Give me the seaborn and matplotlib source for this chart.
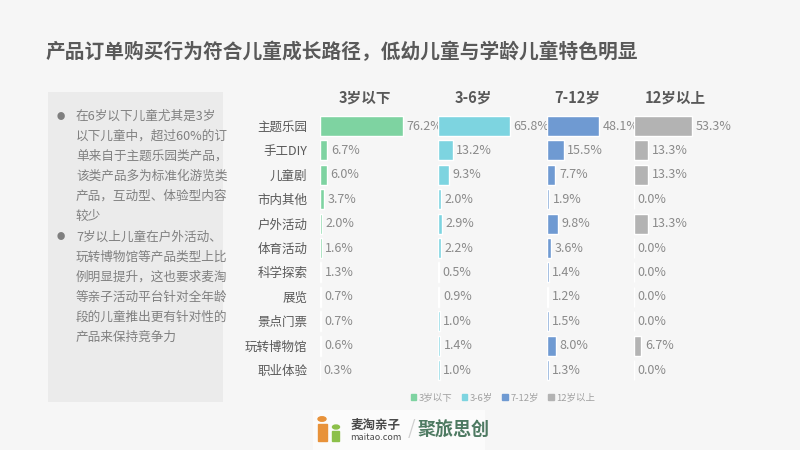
import matplotlib
matplotlib.use("Agg")
import matplotlib.pyplot as plt
import matplotlib.patches as mpatches
import seaborn as sns

# ── data ─────────────────────────────────────────────────────────────────────
categories = ["主题乐园", "手工DIY", "儿童剧", "市内其他", "户外活动", "体育活动",
              "科学探索", "展览", "景点门票", "玩转博物馆", "职业体验"]
age_groups = ["3岁以下", "3-6岁", "7-12岁", "12岁以上"]
under3 = [76.2, 6.7, 6.0, 3.7, 2.0, 1.6, 1.3, 0.7, 0.7, 0.6, 0.3]
age3_6 = [65.8, 13.2, 9.3, 2.0, 2.9, 2.2, 0.5, 0.9, 1.0, 1.4, 1.0]
age7_12 = [48.1, 15.5, 7.7, 1.9, 9.8, 3.6, 1.4, 1.2, 1.5, 8.0, 1.3]
over12 = [53.3, 13.3, 13.3, 0.0, 13.3, 0.0, 0.0, 0.0, 0.0, 6.7, 0.0]
series = [under3, age3_6, age7_12, over12]

title = "产品订单购买行为符合儿童成长路径，低幼儿童与学龄儿童特色明显"
bullets = [
    ["在6岁以下儿童尤其是3岁", "以下儿童中，超过60%的订", "单来自于主题乐园类产品，",
     "该类产品多为标准化游览类", "产品，互动型、体验型内容", "较少"],
    ["7岁以上儿童在户外活动、", "玩转博物馆等产品类型上比", "例明显提升，这也要求麦淘",
     "等亲子活动平台针对全年龄", "段的儿童推出更有针对性的", "产品来保持竞争力"],
]

# ── style / layout ───────────────────────────────────────────────────────────
colors = ["#7ED3A1", "#7DD4E0", "#6F9AD2", "#B3B3B3"]
panel_xmax = [109, 100, 80, 115]          # per-panel x range, same px-per-% scale
header_x = [365, 473, 577, 675]            # header centres in pixels
BG = "#F6F6F6"
TXT = "#595959"

sns.set_theme(style="white")
plt.rcParams["font.family"] = ["Noto Sans CJK SC", "DejaVu Sans"]

W, H = 800, 450
fig = plt.figure(figsize=(8, 4.5), dpi=100, facecolor=BG)
gs = fig.add_gridspec(1, 4, left=320 / W, right=759 / W, top=1 - 113.8 / H,
                      bottom=1 - 382.2 / H, wspace=0, width_ratios=panel_xmax)

for i, (vals, col, xmax) in enumerate(zip(series, colors, panel_xmax)):
    ax = fig.add_subplot(gs[0, i])
    ax.set_facecolor("none")
    sns.barplot(x=vals, y=categories, ax=ax, color=col, saturation=1,
                width=0.82, orient="h")
    ax.bar_label(ax.containers[0], fmt="%.1f%%", padding=2.5,
                 color="#8A8A8A", fontsize=9)
    ax.set_xlim(0, xmax)
    ax.set_ylim(len(categories) - 0.5, -0.5)
    ax.set_xticks([])
    ax.set_xlabel("")
    ax.set_ylabel("")
    for s in ax.spines.values():
        s.set_visible(False)
    if i == 0:
        ax.tick_params(axis="y", length=0, pad=9, labelsize=9, labelcolor=TXT)
    else:
        ax.set_yticks([])
    fig.text(header_x[i] / W, 1 - 98 / H, age_groups[i], ha="center",
             va="center", fontsize=10.5, fontweight="bold", color=TXT)

# title
fig.text(46 / W, 1 - 52 / H, title, ha="left", va="center", fontsize=14.2,
         fontweight="bold", color=TXT)

# left gray text panel
fig.patches.append(mpatches.Rectangle((48 / W, 1 - 402 / H), 175 / W, 310 / H,
                                      transform=fig.transFigure,
                                      facecolor="#EBEBEB", edgecolor="none",
                                      zorder=0))
y = 116
for block in bullets:
    fig.text(61 / W, 1 - y / H, "●", ha="center", va="center", fontsize=6,
             color="#7F7F7F")
    for line in block:
        fig.text(76 / W, 1 - y / H, line, ha="left", va="center",
                 fontsize=9.1, color="#808080")
        y += 20
    y += 1

# legend
handles = [mpatches.Patch(color=c, label=l) for c, l in zip(colors, age_groups)]
leg = fig.legend(handles=handles, loc="center", bbox_to_anchor=(503 / W, 1 - 398 / H),
                 ncol=4, frameon=False, fontsize=6.8, handlelength=0.55,
                 handleheight=0.55, handletextpad=0.3, columnspacing=1.0)
for t in leg.get_texts():
    t.set_color("#A0A0A0")

# logo (approximation)
fig.patches.append(mpatches.Rectangle((313 / W, 1 - 450 / H), 172 / W, 40 / H,
                                      transform=fig.transFigure,
                                      facecolor="#FBFBFB", edgecolor="none"))
fig.patches.append(mpatches.Circle((322 / W, 1 - 419 / H), 4 / W,
                                   transform=fig.transFigure, color="#E8923A"))
fig.patches.append(mpatches.Rectangle((318 / W, 1 - 441 / H), 9 / W, 17 / H,
                                      transform=fig.transFigure, color="#E8923A"))
fig.patches.append(mpatches.Circle((336 / W, 1 - 427 / H), 3.5 / W,
                                   transform=fig.transFigure, color="#8CC04A"))
fig.patches.append(mpatches.Rectangle((332 / W, 1 - 441 / H), 7 / W, 10 / H,
                                      transform=fig.transFigure, color="#8CC04A"))
fig.text(350 / W, 1 - 425 / H, "麦淘亲子", fontsize=9, fontweight="bold",
         color="#4A4A4A", va="center")
fig.text(350 / W, 1 - 438 / H, "maitao.com", fontsize=6.5, color="#4A4A4A",
         va="center")
fig.text(408 / W, 1 - 430 / H, "/", fontsize=14, color="#D0D0D0", va="center")
fig.text(418 / W, 1 - 430 / H, "聚旅思创", fontsize=13, fontweight="bold",
         color="#4E7A62", va="center")

fig.savefig("out.png", dpi=100, facecolor=BG)
